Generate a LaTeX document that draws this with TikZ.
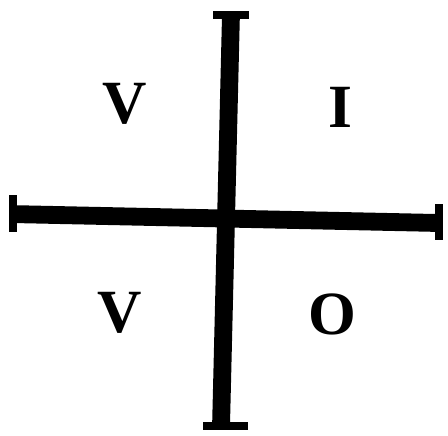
\documentclass[tikz,border=0pt]{standalone}
\usepackage{fontspec}
\setmainfont{Liberation Serif}
\begin{document}
\begin{tikzpicture}[
  x=0.5pt,
  y=-0.5pt,
  bar/.style={line width=9pt},
  endcap/.style={line width=4pt},
  quad/.style={font=\fontsize{31}{34}\selectfont\bfseries}
]

% White background
\fill[white] (0,0) rectangle (448,434);

% Bar ends
\coordinate (top) at (233,16);
\coordinate (bottom) at (223,430);
\coordinate (left) at (13,216);
\coordinate (right) at (443,225);

% Bars
\draw[bar] (top) -- (bottom);
\draw[bar] (left) -- (right);

% End caps
\draw[endcap] (215,15) -- (251,15);
\draw[endcap] (205,430) -- (250,430);
\draw[endcap] (13,197) -- (13,234);
\draw[endcap] (443,206) -- (443,242);

% Quadrant letters
\node[quad] (ul) at (126,105) {V};
\node[quad] (ur) at (344,108) {I};
\node[quad] (ll) at (121,316) {V};
\node[quad] (lr) at (335,317) {O};

\end{tikzpicture}
\end{document}
